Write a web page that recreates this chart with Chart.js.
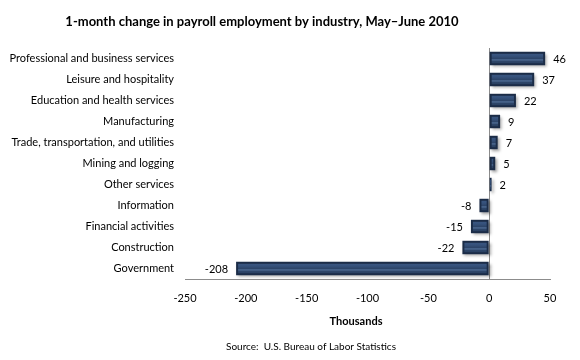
<!DOCTYPE html>
<html><head><meta charset="utf-8">
<script src="https://cdn.jsdelivr.net/npm/chart.js@4/dist/chart.umd.min.js"></script>
<style>html,body{margin:0;padding:0;background:#fff}#w{width:580px;height:360px}</style>
</head><body><div id="w"><canvas id="c"></canvas></div>
<script>
const categories = ["Professional and business services","Leisure and hospitality","Education and health services","Manufacturing","Trade, transportation, and utilities","Mining and logging","Other services","Information","Financial activities","Construction","Government"];
const values = [46,37,22,9,7,5,2,-8,-15,-22,-208];
const xTicks = [-250,-200,-150,-100,-50,0,50];
const titleText = "1-month change in payroll employment by industry, May\u2013June 2010";
const axisTitle = "Thousands";
const sourceText = "Source:  U.S. Bureau of Labor Statistics";
const FONT = "Lato, 'Open Sans', sans-serif";

const shadowPlugin = {
  id:'shadow',
  beforeDatasetsDraw(chart){const c=chart.ctx;c.save();c.shadowColor='rgba(0,0,0,0.35)';c.shadowOffsetX=2;c.shadowOffsetY=2;c.shadowBlur=3;},
  afterDatasetsDraw(chart){
    const c=chart.ctx;c.restore();
    const meta=chart.getDatasetMeta(0);
    c.save();
    meta.data.forEach((el,i)=>{
      const {x,y,base,height}=el.getProps(['x','y','base','height'],true);
      const l=Math.min(x,base), r=Math.max(x,base), t=y-height/2, b=y+height/2;
      const ins=2;
      const g=c.createLinearGradient(0,t,0,b);
      g.addColorStop(0,'#3d5983');g.addColorStop(0.3,'#36527c');g.addColorStop(0.5,'#2d4569');
      g.addColorStop(0.6,'#4d6a92');g.addColorStop(0.72,'#2d4568');g.addColorStop(1,'#243a5a');
      c.fillStyle=g;
      const w=Math.max(r-l-2*ins,1);
      c.fillRect(r-l>2*ins?l+ins:l+0.5,t+ins,r-l>2*ins?w:Math.max(r-l-1,0),b-t-2*ins);
      c.font="11px "+FONT;c.fillStyle='#000';c.textBaseline='middle';
      const v=values[i];
      if(v>=0){c.textAlign='left';c.fillText(String(v),r+8,y+1);}
      else{c.textAlign='right';c.fillText(String(v),l-8,y+1);}
    });
    c.font="bold 13px "+FONT;c.textAlign='center';c.textBaseline='middle';
    c.fillText(titleText,262,22);
    c.font="bold 11px "+FONT;
    c.fillText(axisTitle,356,321);
    c.font="10px "+FONT;
    c.fillText(sourceText,311,347);
    c.restore();
  }
};

new Chart(document.getElementById('c'),{
  type:'bar',
  data:{labels:categories,datasets:[{data:values,backgroundColor:'#1b2c47',borderWidth:0,barPercentage:0.64,categoryPercentage:1}]},
  options:{
    indexAxis:'y',responsive:true,maintainAspectRatio:false,animation:false,
    layout:{padding:{left:0,right:30,top:48,bottom:33}},
    plugins:{legend:{display:false},tooltip:{enabled:false},title:{display:false}},
    scales:{
      x:{type:'linear',min:-250,max:50,
        afterBuildTicks(s){s.ticks=xTicks.map(v=>({value:v}));},
        afterFit(s){s.height=48;},
        ticks:{color:'#000',font:{family:FONT,size:11},padding:13,maxRotation:0},
        grid:{drawTicks:false,color:(ctx)=>ctx.tick&&ctx.tick.value===0?'#8c8c8c':'rgba(0,0,0,0)',lineWidth:1},
        border:{display:true,color:'#8c8c8c'}
      },
      y:{afterFit(s){s.width=185;},
        ticks:{color:'#000',font:{family:FONT,size:11},padding:11,autoSkip:false},
        grid:{display:false,drawTicks:false},border:{display:false}}
    }
  },
  plugins:[shadowPlugin]
});
</script></body></html>
